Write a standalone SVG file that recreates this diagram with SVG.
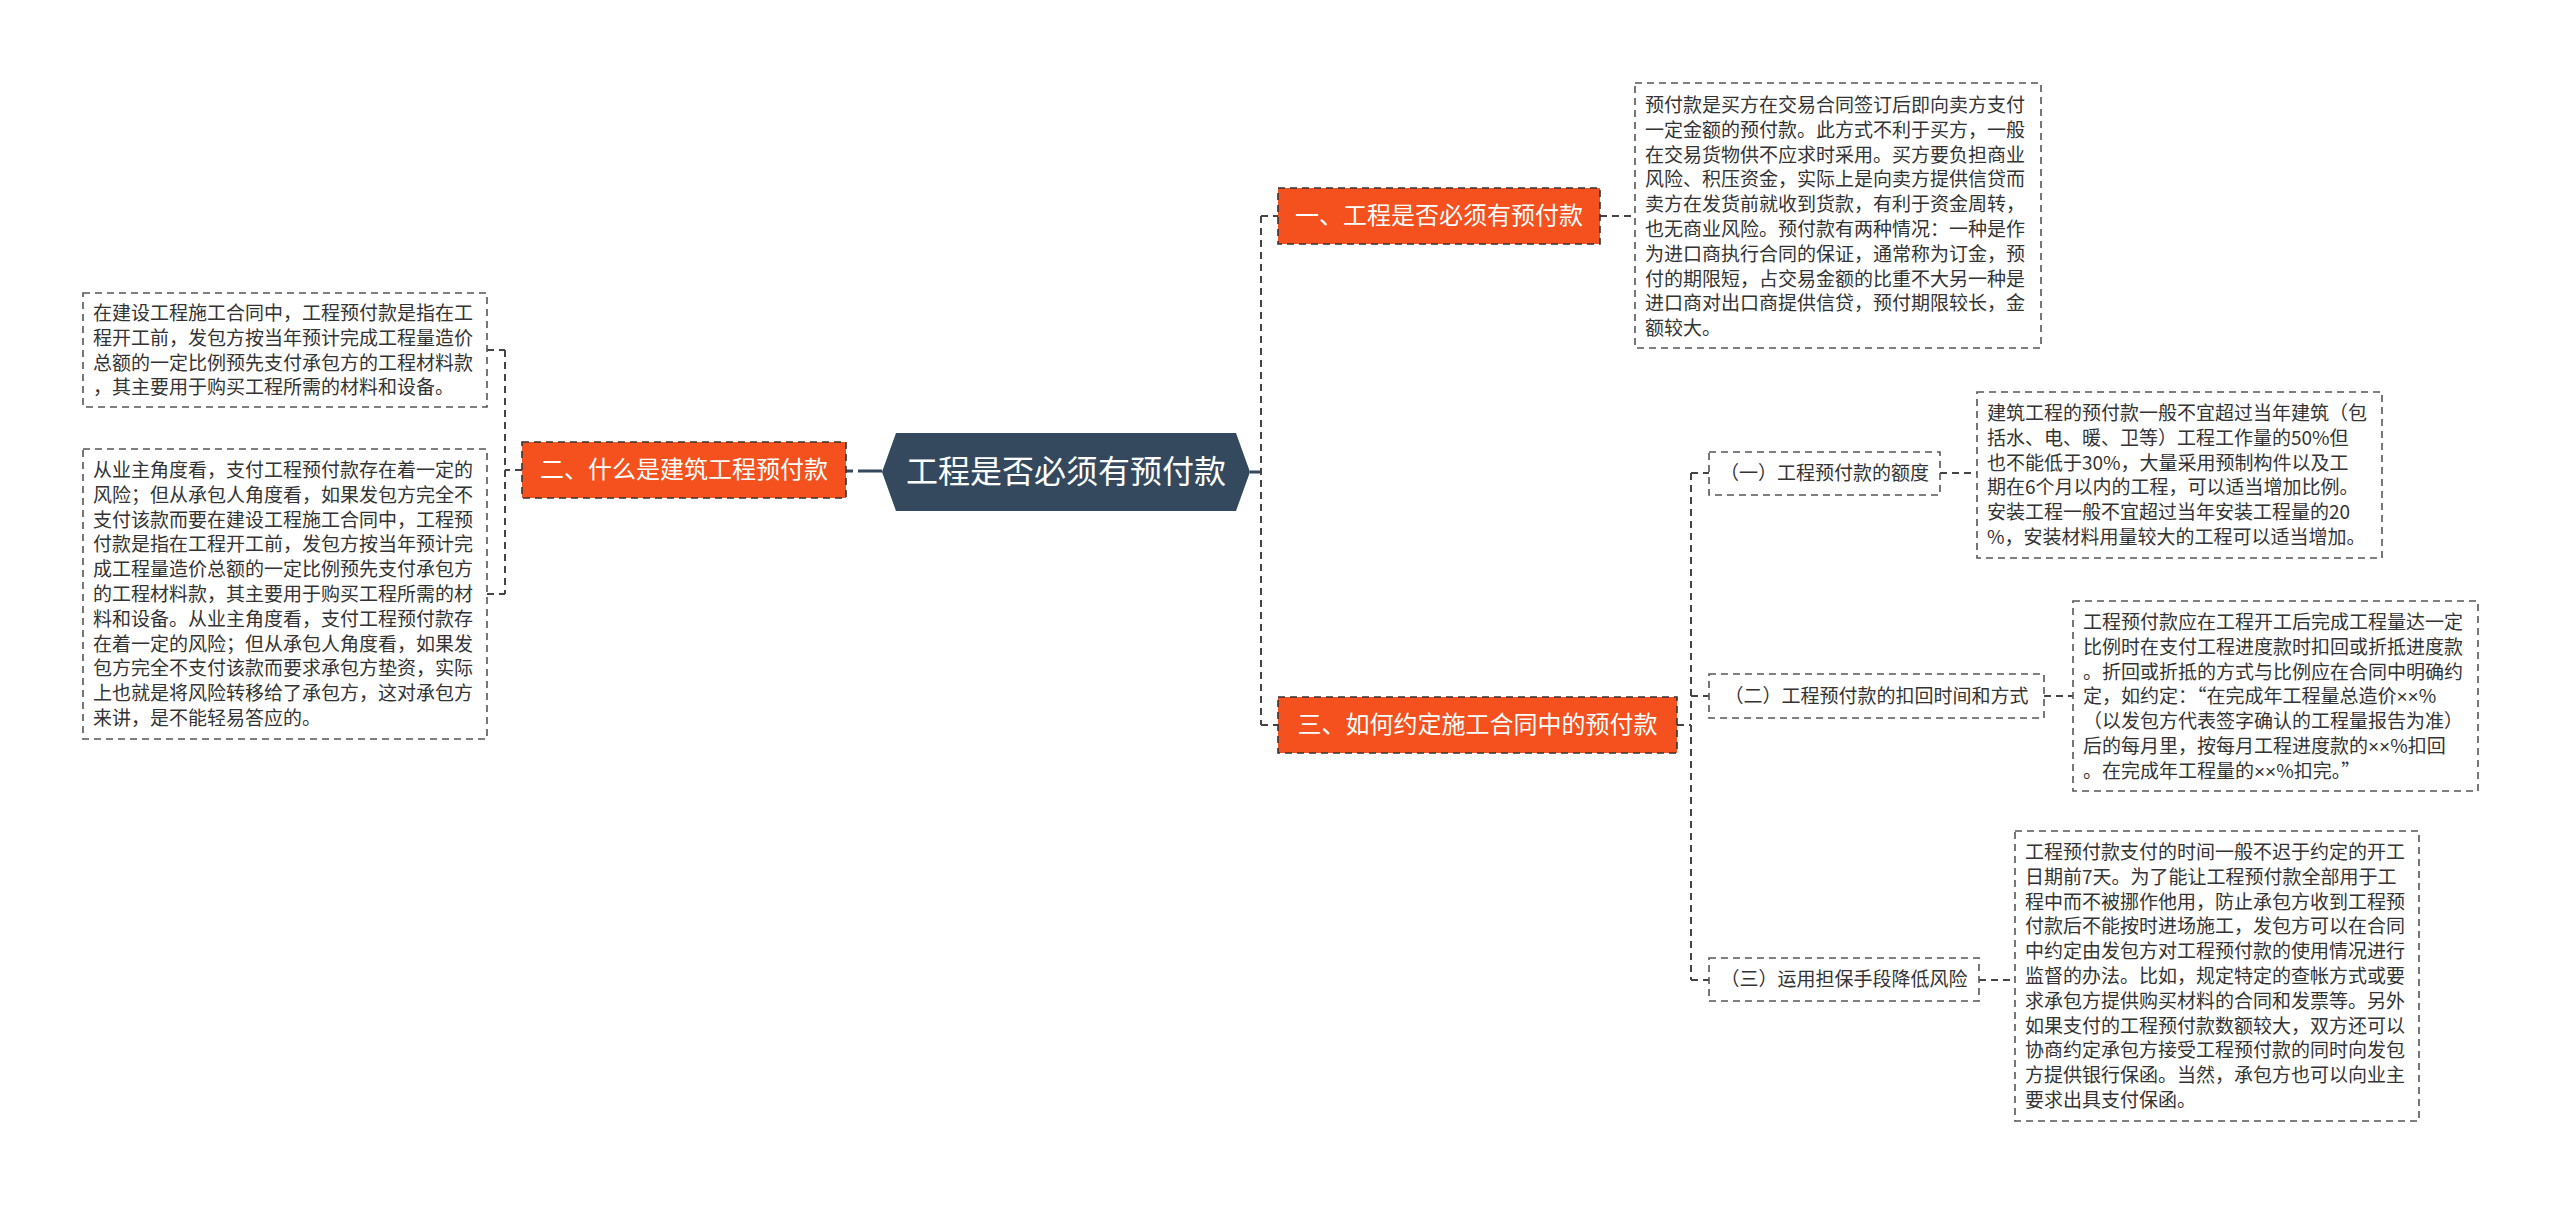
<svg xmlns="http://www.w3.org/2000/svg" width="2560" height="1207" viewBox="0 0 2560 1207">
<style>
text{font-family:"Noto Sans CJK SC","Noto Sans",sans-serif;}
.conn{fill:none;stroke:#444;stroke-width:2;stroke-dasharray:7 5;}
.main{fill:none;stroke:#34495e;stroke-width:3;}
.box{fill:#fff;stroke:#555;stroke-width:1.6;stroke-dasharray:7 5;}
.orange{fill:#f4511e;stroke:#333;stroke-width:1.6;stroke-dasharray:7 5;}
.otext{fill:#fff;font-size:24px;}
.btext{fill:#333;font-size:19px;}
.stext{fill:#333;font-size:19px;}
.x{font-family:"Liberation Sans",sans-serif;}
</style>
<rect width="2560" height="1207" fill="#fff"/>
<g id="connectors">
<path class="main" d="M846 471 H882" stroke-dasharray="7 5 200"/>
<path class="main" d="M1250 472 H1261"/>
<path class="conn" d="M1261 216 V725 M1261 216 H1278 M1261 725 H1278"/>
<path class="conn" d="M1600 216 H1635"/>
<path class="conn" d="M1677 725 H1691 M1691 473 V980 M1691 473 H1709 M1691 696 H1709 M1691 980 H1709"/>
<path class="conn" d="M1940 473 H1977 M2044 696 H2073 M1979 980 H2015"/>
<path class="conn" d="M522 470 H505 M505 350 V594 M487 350 H505 M487 594 H505"/>
</g>
<g id="root">
<polygon points="882,472 896,433 1236,433 1250,472 1236,511 896,511" fill="#34495e"/>
<text x="1066" y="483" text-anchor="middle" fill="#fff" font-size="32">工程是否必须有预付款</text>
</g>
<g id="n1">
<rect class="orange" x="1278" y="188" width="322" height="56"/>
<text class="otext" x="1439" y="224" text-anchor="middle">一、工程是否必须有预付款</text>
</g>
<g id="n1t">
<rect class="box" x="1635" y="83" width="406" height="265"/>
<text class="btext" x="1645" y="112">
<tspan x="1645">预付款是买方在交易合同签订后即向卖方支付</tspan>
<tspan x="1645" dy="24.8">一定金额的预付款。此方式不利于买方，一般</tspan>
<tspan x="1645" dy="24.8">在交易货物供不应求时采用。买方要负担商业</tspan>
<tspan x="1645" dy="24.8">风险、积压资金，实际上是向卖方提供信贷而</tspan>
<tspan x="1645" dy="24.8">卖方在发货前就收到货款，有利于资金周转，</tspan>
<tspan x="1645" dy="24.8">也无商业风险。预付款有两种情况：一种是作</tspan>
<tspan x="1645" dy="24.8">为进口商执行合同的保证，通常称为订金，预</tspan>
<tspan x="1645" dy="24.8">付的期限短，占交易金额的比重不大另一种是</tspan>
<tspan x="1645" dy="24.8">进口商对出口商提供信贷，预付期限较长，金</tspan>
<tspan x="1645" dy="24.8">额较大。</tspan>
</text>
</g>
<g id="n2">
<rect class="orange" x="522" y="442" width="324" height="56"/>
<text class="otext" x="684" y="478" text-anchor="middle">二、什么是建筑工程预付款</text>
</g>
<g id="n2a">
<rect class="box" x="83" y="293" width="404" height="114"/>
<text class="btext" x="93" y="320">
<tspan x="93">在建设工程施工合同中，工程预付款是指在工</tspan>
<tspan x="93" dy="24.8">程开工前，发包方按当年预计完成工程量造价</tspan>
<tspan x="93" dy="24.8">总额的一定比例预先支付承包方的工程材料款</tspan>
<tspan x="93" dy="24.8">，其主要用于购买工程所需的材料和设备。</tspan>
</text>
</g>
<g id="n2b">
<rect class="box" x="83" y="449" width="404" height="290"/>
<text class="btext" x="93" y="477">
<tspan x="93">从业主角度看，支付工程预付款存在着一定的</tspan>
<tspan x="93" dy="24.8">风险；但从承包人角度看，如果发包方完全不</tspan>
<tspan x="93" dy="24.8">支付该款而要在建设工程施工合同中，工程预</tspan>
<tspan x="93" dy="24.8">付款是指在工程开工前，发包方按当年预计完</tspan>
<tspan x="93" dy="24.8">成工程量造价总额的一定比例预先支付承包方</tspan>
<tspan x="93" dy="24.8">的工程材料款，其主要用于购买工程所需的材</tspan>
<tspan x="93" dy="24.8">料和设备。从业主角度看，支付工程预付款存</tspan>
<tspan x="93" dy="24.8">在着一定的风险；但从承包人角度看，如果发</tspan>
<tspan x="93" dy="24.8">包方完全不支付该款而要求承包方垫资，实际</tspan>
<tspan x="93" dy="24.8">上也就是将风险转移给了承包方，这对承包方</tspan>
<tspan x="93" dy="24.8">来讲，是不能轻易答应的。</tspan>
</text>
</g>
<g id="n3">
<rect class="orange" x="1278" y="697" width="399" height="56"/>
<text class="otext" x="1477.5" y="733" text-anchor="middle">三、如何约定施工合同中的预付款</text>
</g>
<g id="s1">
<rect class="box" x="1709" y="452" width="231" height="43"/>
<text class="stext" x="1824.5" y="480" text-anchor="middle">（一）工程预付款的额度</text>
</g>
<g id="s1t">
<rect class="box" x="1977" y="392" width="405" height="166"/>
<text class="btext" x="1987" y="420">
<tspan x="1987">建筑工程的预付款一般不宜超过当年建筑（包</tspan>
<tspan x="1987" dy="24.8">括水、电、暖、卫等）工程工作量的50%但</tspan>
<tspan x="1987" dy="24.8">也不能低于30%，大量采用预制构件以及工</tspan>
<tspan x="1987" dy="24.8">期在6个月以内的工程，可以适当增加比例。</tspan>
<tspan x="1987" dy="24.8">安装工程一般不宜超过当年安装工程量的20</tspan>
<tspan x="1987" dy="24.8">%，安装材料用量较大的工程可以适当增加。</tspan>
</text>
</g>
<g id="s2">
<rect class="box" x="1709" y="674" width="335" height="44"/>
<text class="stext" x="1876.5" y="703" text-anchor="middle">（二）工程预付款的扣回时间和方式</text>
</g>
<g id="s2t">
<rect class="box" x="2073" y="601" width="405" height="190"/>
<text class="btext" x="2083" y="629">
<tspan x="2083">工程预付款应在工程开工后完成工程量达一定</tspan>
<tspan x="2083" dy="24.8">比例时在支付工程进度款时扣回或折抵进度款</tspan>
<tspan x="2083" dy="24.8">。折回或折抵的方式与比例应在合同中明确约</tspan>
<tspan x="2083" dy="24.8">定，如约定：“在完成年工程量总造价<tspan class="x">××</tspan>%</tspan>
<tspan x="2083" dy="24.8">（以发包方代表签字确认的工程量报告为准）</tspan>
<tspan x="2083" dy="24.8">后的每月里，按每月工程进度款的<tspan class="x">××</tspan>%扣回</tspan>
<tspan x="2083" dy="24.8">。在完成年工程量的<tspan class="x">××</tspan>%扣完。”</tspan>
</text>
</g>
<g id="s3">
<rect class="box" x="1709" y="958" width="270" height="43"/>
<text class="stext" x="1844" y="986" text-anchor="middle">（三）运用担保手段降低风险</text>
</g>
<g id="s3t">
<rect class="box" x="2015" y="831" width="404" height="290"/>
<text class="btext" x="2025" y="859">
<tspan x="2025">工程预付款支付的时间一般不迟于约定的开工</tspan>
<tspan x="2025" dy="24.8">日期前7天。为了能让工程预付款全部用于工</tspan>
<tspan x="2025" dy="24.8">程中而不被挪作他用，防止承包方收到工程预</tspan>
<tspan x="2025" dy="24.8">付款后不能按时进场施工，发包方可以在合同</tspan>
<tspan x="2025" dy="24.8">中约定由发包方对工程预付款的使用情况进行</tspan>
<tspan x="2025" dy="24.8">监督的办法。比如，规定特定的查帐方式或要</tspan>
<tspan x="2025" dy="24.8">求承包方提供购买材料的合同和发票等。另外</tspan>
<tspan x="2025" dy="24.8">如果支付的工程预付款数额较大，双方还可以</tspan>
<tspan x="2025" dy="24.8">协商约定承包方接受工程预付款的同时向发包</tspan>
<tspan x="2025" dy="24.8">方提供银行保函。当然，承包方也可以向业主</tspan>
<tspan x="2025" dy="24.8">要求出具支付保函。</tspan>
</text>
</g>
</svg>
